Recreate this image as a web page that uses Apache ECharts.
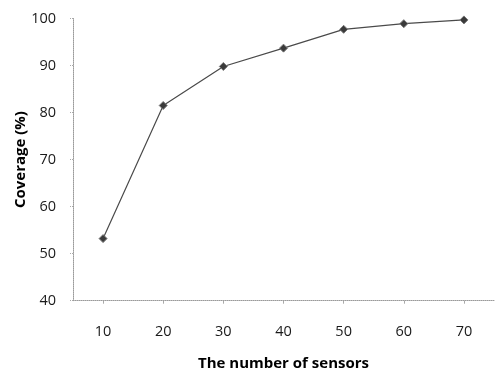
<!DOCTYPE html>
<html>
<head>
<meta charset="utf-8">
<script src="https://cdn.jsdelivr.net/npm/echarts@6/dist/echarts.min.js"></script>
<style>
  html, body { margin: 0; padding: 0; background: #fff; }
  #chart { width: 496px; height: 370px; }
</style>
</head>
<body>
<div id="chart"></div>
<script>
// Coverage achieved as the number of deployed sensors grows
const sensorCounts = ['10', '20', '30', '40', '50', '60', '70'];
const coverage = [53.2, 81.5, 89.8, 93.7, 97.7, 98.9, 99.7];
const yTicks = { min: 40, max: 100, interval: 10 };

const chart = echarts.init(document.getElementById('chart'), null, { renderer: 'canvas' });

const dottedAxis = {
  show: true,
  lineStyle: { color: '#9a9a9a', width: 1, type: [1, 1] }
};
const labelFont = { color: '#1a1a1a', fontSize: 14.5, fontFamily: 'Open Sans' };
const nameFont = { color: '#000', fontSize: 15, fontWeight: 'bold', fontFamily: 'Open Sans' };

chart.setOption({
  animation: false,
  grid: {
    left: 73, right: 2, top: 18.5, bottom: 69.3,
    containLabel: false,
    outerBoundsMode: 'none'
  },
  xAxis: {
    type: 'category',
    data: sensorCounts,
    boundaryGap: true,
    name: 'The number of sensors',
    nameLocation: 'middle',
    nameGap: 56,
    nameMoveOverlap: false,
    nameTextStyle: nameFont,
    axisLine: dottedAxis,
    axisTick: { show: true, alignWithLabel: true, length: 3, lineStyle: { color: '#aaa' } },
    axisLabel: Object.assign({ margin: 24 }, labelFont),
    splitLine: { show: false }
  },
  yAxis: {
    type: 'value',
    min: yTicks.min,
    max: yTicks.max,
    interval: yTicks.interval,
    name: 'Coverage (%)',
    nameLocation: 'middle',
    nameGap: 45,
    nameRotate: 90,
    nameMoveOverlap: false,
    nameTextStyle: nameFont,
    axisLine: dottedAxis,
    axisTick: { show: true, length: 4, lineStyle: { color: '#aaa', type: [1, 1] } },
    axisLabel: Object.assign({ margin: 17 }, labelFont),
    splitLine: { show: false }
  },
  series: [{
    type: 'line',
    data: coverage,
    symbol: 'diamond',
    symbolSize: 8,
    lineStyle: { color: '#4a4a4a', width: 1.2 },
    itemStyle: { color: '#3a3a3a', borderColor: '#777', borderWidth: 1 }
  }]
});
</script>
</body>
</html>
